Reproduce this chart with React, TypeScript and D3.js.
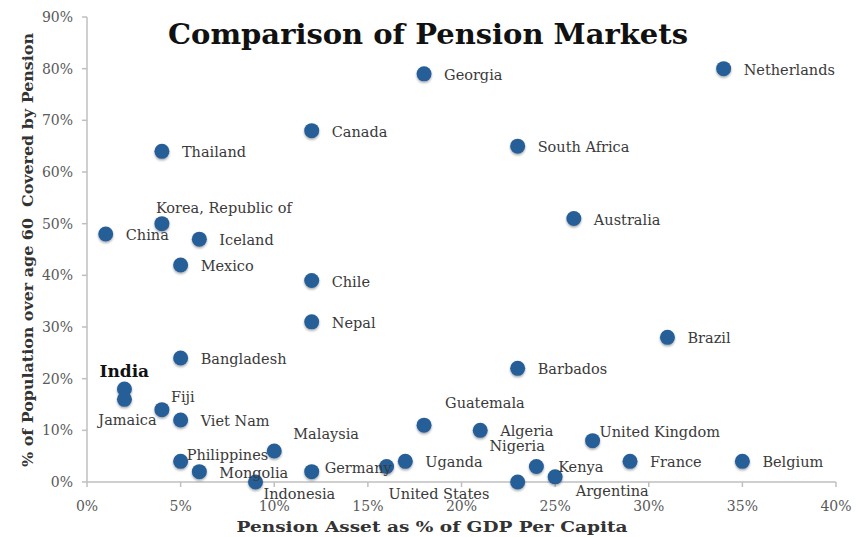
import React from "react";
import * as d3 from "d3";

const countries = [
  "Netherlands", "Georgia", "Canada", "South Africa", "Thailand", "Australia",
  "Korea, Republic of", "China", "Iceland", "Mexico", "Chile", "Nepal", "Brazil",
  "Bangladesh", "Barbados", "India", "Jamaica", "Fiji", "Viet Nam", "Guatemala",
  "Algeria", "United Kingdom", "Malaysia", "Philippines", "Uganda", "France", "Belgium",
  "Nigeria", "United States", "Mongolia", "Germany", "Kenya", "Indonesia", "Argentina",
];
const assetPct = [
  34, 18, 12, 23, 4, 26,
  4, 1, 6, 5, 12, 12, 31,
  5, 23, 2, 2, 4, 5, 18,
  21, 27, 10, 5, 17, 29, 35,
  24, 16, 6, 12, 25, 9, 23,
];
const coveragePct = [
  80, 79, 68, 65, 64, 51,
  50, 48, 47, 42, 39, 31, 28,
  24, 22, 18, 16, 14, 12, 11,
  10, 8, 6, 4, 4, 4, 4,
  3, 3, 2, 2, 1, 0, 0,
];
const xTicks = [0, 5, 10, 15, 20, 25, 30, 35, 40];
const yTicks = [0, 10, 20, 30, 40, 50, 60, 70, 80, 90];

const titleText = "Comparison of Pension Markets";
const xTitle = "Pension Asset as % of GDP Per Capita";
const yTitle = "% of Population over age 60  Covered by Pension";

// label placement (layout only): [dx, dy, anchor]
const labelPlacement: Record<string, [number, number, string]> = {
  "Korea, Republic of": [-6, -11, "start"],
  India: [-25, -12, "start"],
  Jamaica: [3, 26, "middle"],
  Fiji: [9, -8, "start"],
  Philippines: [6, -1, "start"],
  Indonesia: [8, 17, "start"],
  Malaysia: [19, -12, "start"],
  Germany: [13, 1, "start"],
  "United States": [2, 32, "start"],
  Guatemala: [21, -17, "start"],
  Nigeria: [-47, -16, "start"],
  Argentina: [58, 14, "start"],
  Kenya: [3, -5, "start"],
  "United Kingdom": [7, -4, "start"],
};

const W = 863;
const H = 537;
const margin = { left: 87, right: 27, top: 17, bottom: 55 };
const serif = "'DejaVu Serif', 'Liberation Serif', serif";

export default function App() {
  const x = d3.scaleLinear().domain([0, 40]).range([margin.left, W - margin.right]);
  const y = d3.scaleLinear().domain([0, 90]).range([H - margin.bottom, margin.top]);
  const axisColor = "#BFBFBF";
  const y0 = y(0);
  const x0 = x(0);

  return (
    <svg
      width={W}
      height={H}
      style={{ position: "absolute", left: 0, top: 0, background: "#fff" }}
      fontFamily={serif}
    >
      <defs>
        <filter id="shadow" x="-50%" y="-50%" width="200%" height="200%">
          <feDropShadow dx="0" dy="1.5" stdDeviation="1" floodColor="#000" floodOpacity="0.35" />
        </filter>
      </defs>
      <rect width={W} height={H} fill="#fff" />

      {/* axes */}
      <line x1={x0} x2={x0} y1={y(90)} y2={y0} stroke={axisColor} strokeWidth={1.5} />
      <line x1={x0} x2={x(40)} y1={y0} y2={y0} stroke={axisColor} strokeWidth={1.5} />
      {yTicks.map((t) => (
        <g key={"y" + t}>
          <line x1={x0 - 5} x2={x0} y1={y(t)} y2={y(t)} stroke={axisColor} strokeWidth={1.5} />
          <text x={x0 - 14} y={y(t) + 5} textAnchor="end" fontSize={14} fill="#595959">
            {t + "%"}
          </text>
        </g>
      ))}
      {xTicks.map((t) => (
        <g key={"x" + t}>
          <line x1={x(t)} x2={x(t)} y1={y0} y2={y0 + 5} stroke={axisColor} strokeWidth={1.5} />
          <text x={x(t)} y={y0 + 29} textAnchor="middle" fontSize={14} fill="#595959">
            {t + "%"}
          </text>
        </g>
      ))}

      {/* points */}
      {countries.map((c, i) => (
        <circle
          key={"p" + c}
          cx={x(assetPct[i])}
          cy={y(coveragePct[i])}
          r={7.5}
          fill="#285E98"
          filter="url(#shadow)"
        />
      ))}

      {/* labels */}
      {countries.map((c, i) => {
        const p = labelPlacement[c] || [20, 6, "start"];
        const isIndia = c === "India";
        return (
          <text
            key={"l" + c}
            x={x(assetPct[i]) + p[0]}
            y={y(coveragePct[i]) + p[1]}
            textAnchor={p[2] as any}
            fontSize={isIndia ? 17 : 14.5}
            fontWeight={isIndia ? "bold" : "normal"}
            fill={isIndia ? "#111" : "#3a3a3a"}
          >
            {c}
          </text>
        );
      })}

      {/* titles */}
      <text
        x={428}
        y={44}
        textAnchor="middle"
        fontSize={28}
        fontWeight="bold"
        fill="#111"
        textLength={520}
        lengthAdjust="spacingAndGlyphs"
      >
        {titleText}
      </text>
      <text
        x={432}
        y={532}
        textAnchor="middle"
        fontSize={15}
        fontWeight="bold"
        fill="#333"
        textLength={391}
        lengthAdjust="spacingAndGlyphs"
      >
        {xTitle}
      </text>
      <text
        transform={`translate(33,250) rotate(-90)`}
        textAnchor="middle"
        fontSize={15}
        fontWeight="bold"
        fill="#333"
        style={{ whiteSpace: "pre" }}
        textLength={434}
        lengthAdjust="spacingAndGlyphs"
      >
        {yTitle}
      </text>
    </svg>
  );
}
